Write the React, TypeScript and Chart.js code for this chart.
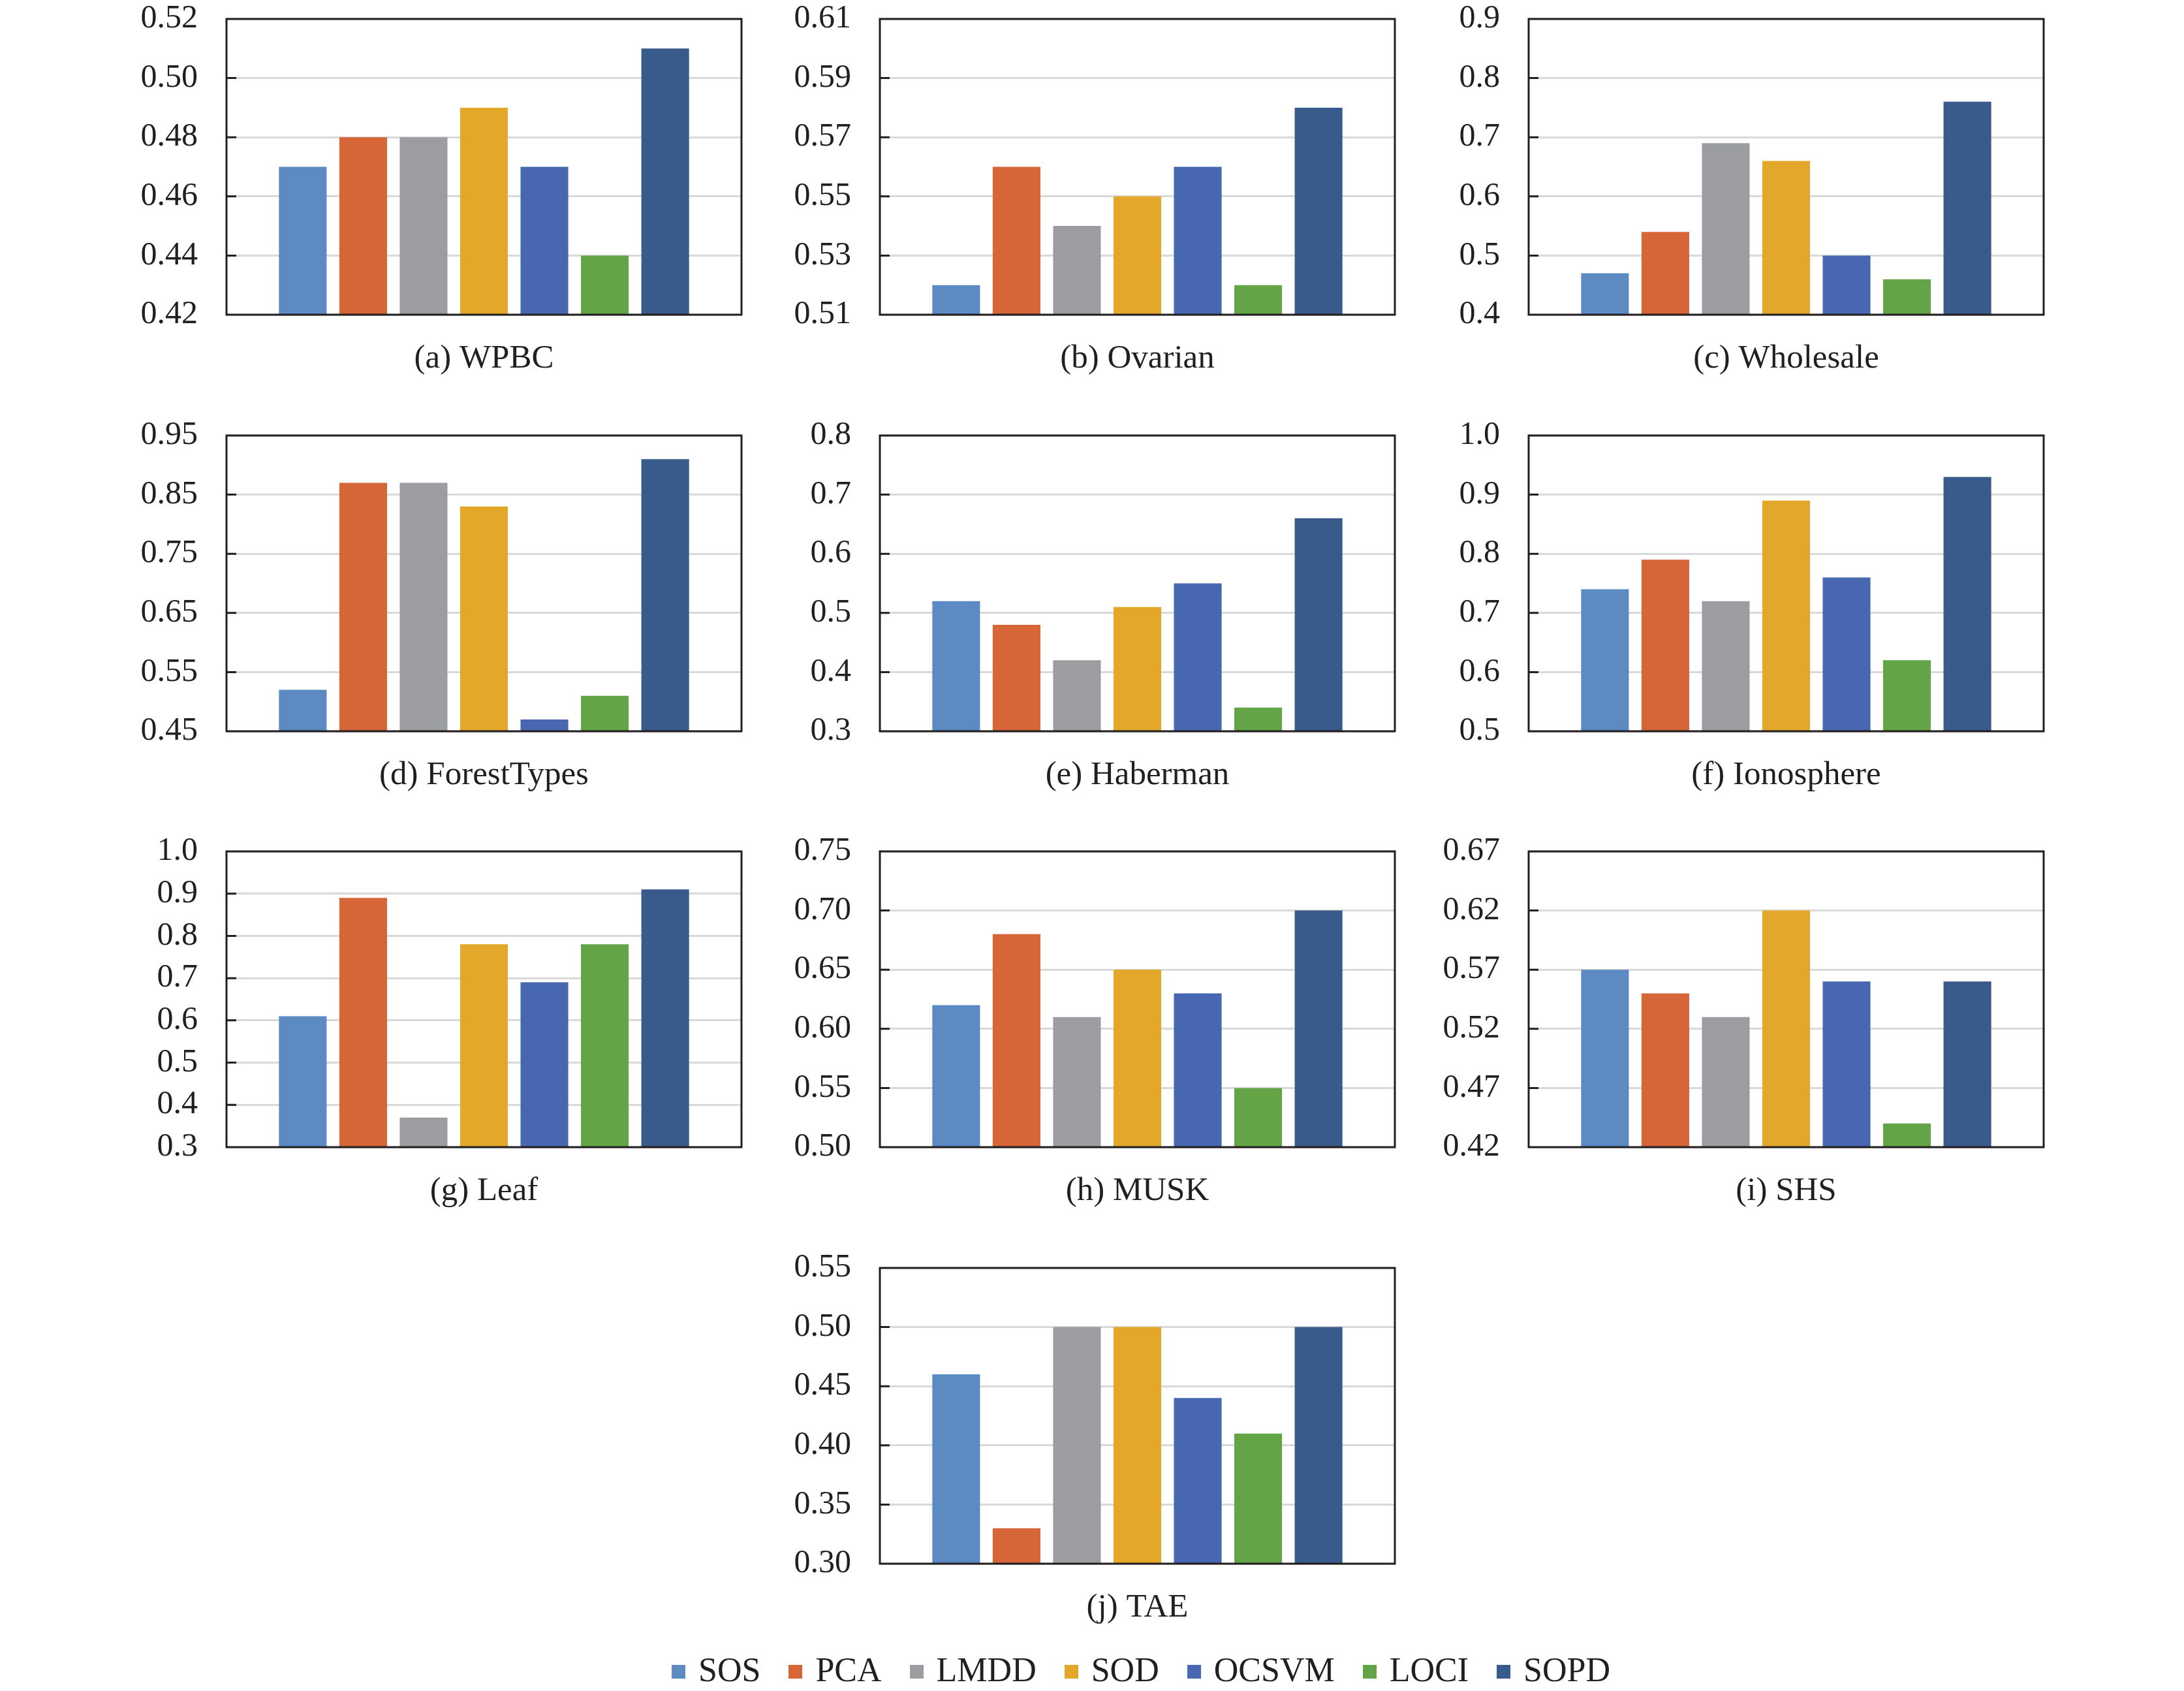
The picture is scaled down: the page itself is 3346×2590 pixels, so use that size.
import React, { useEffect, useRef } from "react";
import { Chart, registerables } from "chart.js";

Chart.register(...registerables);

// methods compared in every panel
const METHODS = ["SOS", "PCA", "LMDD", "SOD", "OCSVM", "LOCI", "SOPD"];
const METHOD_COLORS = ["#5b8bc2", "#d66537", "#9c9da0", "#e3a72a", "#4767b0", "#62a446", "#385b8c"];

// scores per dataset, in METHODS order
const WPBC = [0.47, 0.48, 0.48, 0.49, 0.47, 0.44, 0.51];
const OVARIAN = [0.52, 0.56, 0.54, 0.55, 0.56, 0.52, 0.58];
const WHOLESALE = [0.47, 0.54, 0.69, 0.66, 0.5, 0.46, 0.76];
const FORESTTYPES = [0.52, 0.87, 0.87, 0.83, 0.47, 0.51, 0.91];
const HABERMAN = [0.52, 0.48, 0.42, 0.51, 0.55, 0.34, 0.66];
const IONOSPHERE = [0.74, 0.79, 0.72, 0.89, 0.76, 0.62, 0.93];
const LEAF = [0.61, 0.89, 0.37, 0.78, 0.69, 0.78, 0.91];
const MUSK = [0.62, 0.68, 0.61, 0.65, 0.63, 0.55, 0.7];
const SHS = [0.57, 0.55, 0.53, 0.62, 0.56, 0.44, 0.56];
const TAE = [0.46, 0.33, 0.5, 0.5, 0.44, 0.41, 0.5];

// y tick labels per dataset
const WPBC_TICKS = ["0.42", "0.44", "0.46", "0.48", "0.50", "0.52"];
const OVARIAN_TICKS = ["0.51", "0.53", "0.55", "0.57", "0.59", "0.61"];
const WHOLESALE_TICKS = ["0.4", "0.5", "0.6", "0.7", "0.8", "0.9"];
const FORESTTYPES_TICKS = ["0.45", "0.55", "0.65", "0.75", "0.85", "0.95"];
const HABERMAN_TICKS = ["0.3", "0.4", "0.5", "0.6", "0.7", "0.8"];
const IONOSPHERE_TICKS = ["0.5", "0.6", "0.7", "0.8", "0.9", "1.0"];
const LEAF_TICKS = ["0.3", "0.4", "0.5", "0.6", "0.7", "0.8", "0.9", "1.0"];
const MUSK_TICKS = ["0.50", "0.55", "0.60", "0.65", "0.70", "0.75"];
const SHS_TICKS = ["0.42", "0.47", "0.52", "0.57", "0.62", "0.67"];
const TAE_TICKS = ["0.30", "0.35", "0.40", "0.45", "0.50", "0.55"];

const INK = "#231f20";
const SERIF = "'Liberation Serif', 'Times New Roman', serif";

const PLOT_W = 789;
const PLOT_H = 453;
const AXIS_W = 160;
const PAD_TOP = 40;
const PAD_RIGHT = 20;
const CAPTION_H = 100;

const COLS = [347, 1348, 2342];
const ROWS = [29, 667, 1304, 1942];

const framePlugin = {
  id: "frame",
  afterDatasetsDraw(chart: any) {
    const { ctx, chartArea } = chart;
    const { left, top, right, bottom } = chartArea;
    const y = chart.scales.y;
    ctx.save();
    ctx.strokeStyle = INK;
    ctx.lineWidth = 3;
    ctx.beginPath();
    y.ticks.forEach((t: any, i: number) => {
      if (i === 0 || i === y.ticks.length - 1) return;
      const py = y.getPixelForValue(t.value);
      ctx.moveTo(left, py);
      ctx.lineTo(left + 15, py);
    });
    ctx.stroke();
    ctx.strokeRect(left, top, right - left, bottom - top);
    ctx.restore();
  },
};

type PanelProps = {
  caption: string;
  values: number[];
  ticks: string[];
  left: number;
  top: number;
};

const BarPanel: React.FC<PanelProps> = ({ caption, values, ticks, left, top }) => {
  const canvasRef = useRef<HTMLCanvasElement | null>(null);

  useEffect(() => {
    if (!canvasRef.current) return;
    const tickValues = ticks.map((t) => parseFloat(t));

    const chart = new Chart(canvasRef.current, {
      type: "bar",
      data: {
        labels: [""],
        datasets: METHODS.map((m, i) => ({
          label: m,
          data: [values[i]],
          backgroundColor: METHOD_COLORS[i],
          borderWidth: 0,
          barPercentage: 0.79,
          categoryPercentage: 0.821,
        })),
      },
      options: {
        animation: false,
        responsive: false,
        maintainAspectRatio: false,
        devicePixelRatio: 1,
        events: [],
        layout: { padding: 0 },
        plugins: {
          legend: { display: false },
          tooltip: { enabled: false },
        },
        scales: {
          x: {
            grid: { display: false, drawTicks: false },
            border: { display: false },
            ticks: { display: false },
            title: {
              display: true,
              text: caption,
              color: INK,
              font: { family: SERIF, size: 51 },
              padding: { top: 0, bottom: 2 },
            },
            afterFit: (s: any) => {
              s.height = CAPTION_H;
              s.paddingLeft = 0;
              s.paddingRight = PAD_RIGHT;
            },
          },
          y: {
            min: tickValues[0],
            max: tickValues[tickValues.length - 1],
            grid: { color: "#d9d9d9", lineWidth: 3, drawTicks: false },
            border: { display: false },
            ticks: {
              autoSkip: false,
              padding: 44,
              color: INK,
              font: { family: SERIF, size: 50 },
              callback: (_v: any, i: number) => ticks[i],
            },
            afterBuildTicks: (s: any) => {
              s.ticks = tickValues.map((v) => ({ value: v }));
            },
            afterFit: (s: any) => {
              s.width = AXIS_W;
              s.paddingTop = PAD_TOP;
              s.paddingBottom = 0;
            },
          },
        },
      },
      plugins: [framePlugin],
    });

    return () => {
      chart.destroy();
    };
  }, [caption, values, ticks]);

  const w = AXIS_W + PLOT_W + PAD_RIGHT;
  const h = PAD_TOP + PLOT_H + CAPTION_H;

  return (
    <div style={{ position: "absolute", left: left - AXIS_W, top: top - PAD_TOP, width: w, height: h }}>
      <canvas ref={canvasRef} width={w} height={h} style={{ width: w, height: h }}></canvas>
    </div>
  );
};

const panels = [
  { caption: "(a) WPBC", values: WPBC, ticks: WPBC_TICKS, col: 0, row: 0 },
  { caption: "(b) Ovarian", values: OVARIAN, ticks: OVARIAN_TICKS, col: 1, row: 0 },
  { caption: "(c) Wholesale", values: WHOLESALE, ticks: WHOLESALE_TICKS, col: 2, row: 0 },
  { caption: "(d) ForestTypes", values: FORESTTYPES, ticks: FORESTTYPES_TICKS, col: 0, row: 1 },
  { caption: "(e) Haberman", values: HABERMAN, ticks: HABERMAN_TICKS, col: 1, row: 1 },
  { caption: "(f) Ionosphere", values: IONOSPHERE, ticks: IONOSPHERE_TICKS, col: 2, row: 1 },
  { caption: "(g) Leaf", values: LEAF, ticks: LEAF_TICKS, col: 0, row: 2 },
  { caption: "(h) MUSK", values: MUSK, ticks: MUSK_TICKS, col: 1, row: 2 },
  { caption: "(i) SHS", values: SHS, ticks: SHS_TICKS, col: 2, row: 2 },
  { caption: "(j) TAE", values: TAE, ticks: TAE_TICKS, col: 1, row: 3 },
];

const App: React.FC = () => {
  return (
    <div
      style={{
        position: "absolute",
        left: 0,
        top: 0,
        width: 3346,
        height: 2590,
        background: "#ffffff",
        overflow: "hidden",
      }}
    >
      {panels.map((p) => (
        <BarPanel
          key={p.caption}
          caption={p.caption}
          values={p.values}
          ticks={p.ticks}
          left={COLS[p.col]}
          top={ROWS[p.row]}
        />
      ))}
      <div
        style={{
          position: "absolute",
          left: 1748,
          top: 2533,
          height: 50,
          transform: "translateX(-50%)",
          display: "flex",
          alignItems: "center",
          whiteSpace: "nowrap",
          fontFamily: SERIF,
          fontSize: 52,
          lineHeight: "50px",
          color: INK,
        }}
      >
        {METHODS.map((m, i) => (
          <div key={m} style={{ display: "flex", alignItems: "center", marginLeft: i === 0 ? 0 : 43 }}>
            <span
              style={{
                display: "inline-block",
                width: 21,
                height: 21,
                marginRight: 20,
                marginTop: 4,
                background: METHOD_COLORS[i],
              }}
            ></span>
            <span>{m}</span>
          </div>
        ))}
      </div>
    </div>
  );
};

export default App;
